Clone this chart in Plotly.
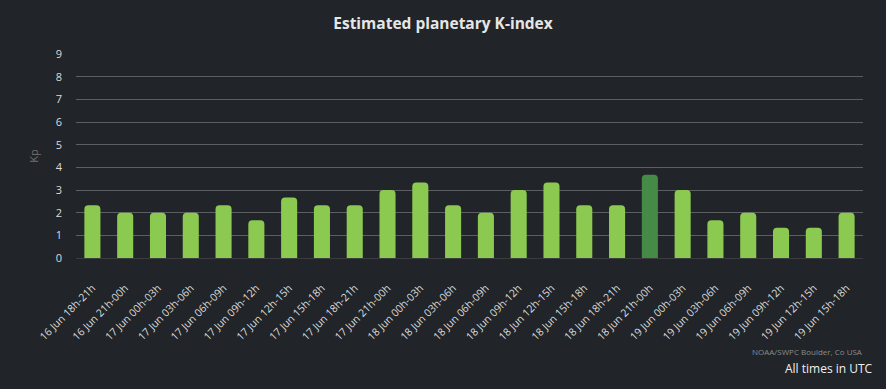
import plotly.graph_objects as go

categories = [
    "16 Jun 18h-21h", "16 Jun 21h-00h",
    "17 Jun 00h-03h", "17 Jun 03h-06h", "17 Jun 06h-09h", "17 Jun 09h-12h",
    "17 Jun 12h-15h", "17 Jun 15h-18h", "17 Jun 18h-21h", "17 Jun 21h-00h",
    "18 Jun 00h-03h", "18 Jun 03h-06h", "18 Jun 06h-09h", "18 Jun 09h-12h",
    "18 Jun 12h-15h", "18 Jun 15h-18h", "18 Jun 18h-21h", "18 Jun 21h-00h",
    "19 Jun 00h-03h", "19 Jun 03h-06h", "19 Jun 06h-09h", "19 Jun 09h-12h",
    "19 Jun 12h-15h", "19 Jun 15h-18h",
]
kp_values = [
    2.33, 2.0, 2.0, 2.0, 2.33, 1.67, 2.67, 2.33, 2.33, 3.0,
    3.33, 2.33, 2.0, 3.0, 3.33, 2.33, 2.33, 3.67, 3.0, 1.67,
    2.0, 1.33, 1.33, 2.0,
]
y_ticks = [0, 1, 2, 3, 4, 5, 6, 7, 8, 9]

LIGHT = "#8cc951"
DARK = "#468a48"
colors = [DARK if v >= 3.5 else LIGHT for v in kp_values]

BG = "#212428"
FONT = "Open Sans, Noto Sans, sans-serif"

fig = go.Figure(
    go.Bar(
        x=categories,
        y=kp_values,
        marker=dict(color=colors, line=dict(width=0)),
        hoverinfo="x+y",
    )
)

fig.update_layout(
    width=886,
    height=389,
    paper_bgcolor=BG,
    plot_bgcolor=BG,
    margin=dict(l=76, r=23, t=54, b=131),
    bargap=0.51,
    barcornerradius=4,
    showlegend=False,
    font=dict(family=FONT, color="#e0e0e0", size=11),
    title=dict(
        text="<b>Estimated planetary K-index</b>",
        x=0.5, xanchor="center",
        y=1 - 24 / 389, yanchor="middle",
        font=dict(family=FONT, size=15.5, color="#e6e6e6"),
    ),
    xaxis=dict(
        tickangle=-45,
        tickfont=dict(size=10.5, color="#dcdcdc"),
        showgrid=False,
        showline=True,
        linecolor="#3a3c40",
        linewidth=1,
        ticks="",
        ticklabelstandoff=19,
        fixedrange=True,
    ),
    yaxis=dict(
        range=[0, 9],
        tickvals=y_ticks,
        tickfont=dict(size=11, color="#dcdcdc"),
        gridcolor="#5c5e61",
        gridwidth=1,
        zeroline=True,
        zerolinecolor="#3a3c40",
        zerolinewidth=1,
        showline=False,
        ticklabelstandoff=13,
        title=dict(text="Kp", font=dict(size=11, color="#6e7073"), standoff=14),
        fixedrange=True,
    ),
    annotations=[
        dict(
            text="NOAA/SWPC Boulder, Co USA",
            xref="paper", yref="paper",
            x=(865 - 76) / 787, y=(258 - 351) / 204,
            xanchor="right", yanchor="middle",
            showarrow=False,
            font=dict(family=FONT, size=8, color="#8a8c8f"),
        ),
        dict(
            text="All times in UTC",
            xref="paper", yref="paper",
            x=(875 - 76) / 787, y=(258 - 368) / 204,
            xanchor="right", yanchor="middle",
            showarrow=False,
            font=dict(family=FONT, size=12, color="#f0f0f0"),
        ),
    ],
)

fig.write_html(
    "out.html",
    config={"displayModeBar": False},
    post_script="document.body.style.margin='0';document.body.style.overflow='hidden';document.body.style.background='#212428';",
)
